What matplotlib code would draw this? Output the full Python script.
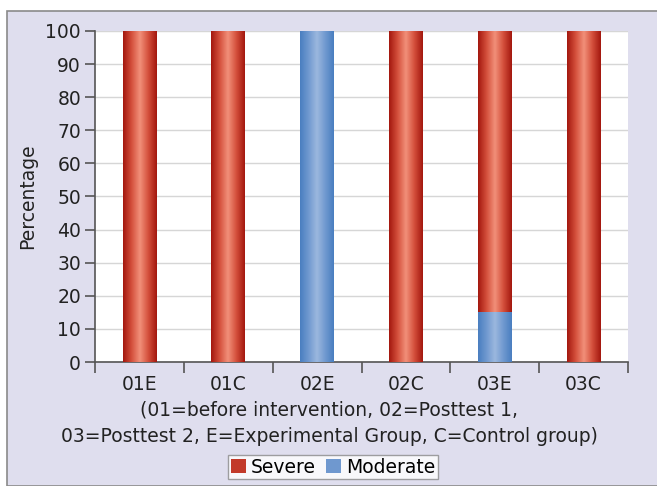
import matplotlib.pyplot as plt
import numpy as np
from matplotlib.colors import LinearSegmentedColormap
from matplotlib.patches import Rectangle, Patch

plt.rcParams['font.family'] = ['DejaVu Sans']

groups = ['01E', '01C', '02E', '02C', '03E', '03C']
moderate = [0, 0, 100, 0, 15, 0]
severe = [100, 100, 0, 100, 85, 100]
note_lines = ['(01=before intervention, 02=Posttest 1,',
              '03=Posttest 2, E=Experimental Group, C=Control group)']

red_cmap = LinearSegmentedColormap.from_list('red', ['#a4180f', '#d4503c', '#f2907a', '#d4503c', '#a4180f'])
blue_cmap = LinearSegmentedColormap.from_list('blue', ['#4a7fc0', '#7099d0', '#9cb8de', '#7099d0', '#4a7fc0'])

FS = 13.5
TXT = '#222222'


def gradient_bars(ax, bars, cmap):
    grad = np.linspace(0, 1, 64).reshape(1, -1)
    for b in bars:
        if b.get_height() <= 0:
            continue
        x0, y0 = b.get_x(), b.get_y()
        im = ax.imshow(grad, cmap=cmap, aspect='auto', zorder=3,
                       extent=(x0, x0 + b.get_width(), y0, y0 + b.get_height()))
        im.set_clip_path(b)


fig = plt.figure(figsize=(6.57, 4.86), dpi=100)
fig.patch.set_facecolor('white')
bg = Rectangle((7 / 657, 0), 1, 1 - 11 / 486, transform=fig.transFigure,
               facecolor='#dfdeee', edgecolor='#8a8a8a', linewidth=1.2, zorder=-10)
fig.add_artist(bg)

ax = fig.add_axes([95 / 657, 124 / 486, 533 / 657, 331 / 486])
ax.set_facecolor('white')

x = np.arange(len(groups))
w = 0.38
b1 = ax.bar(x, moderate, w, color='#7099d0', zorder=2)
b2 = ax.bar(x, severe, w, bottom=moderate, color='#d4503c', zorder=2)
gradient_bars(ax, b1, blue_cmap)
gradient_bars(ax, b2, red_cmap)

ax.set_xlim(-0.5, len(groups) - 0.5)
ax.set_ylim(0, 100)
ax.set_yticks(range(0, 101, 10))
ax.yaxis.grid(True, color='#d6d6d6', linewidth=1, zorder=0)
ax.set_axisbelow(True)

ax.set_xticks(np.arange(-0.5, len(groups), 1))
ax.set_xticklabels([])
ax.set_xticks(x, minor=True)
ax.set_xticklabels(groups, minor=True)
ax.tick_params(axis='x', which='minor', length=0, pad=9, labelsize=FS, labelcolor=TXT)
ax.tick_params(axis='x', which='major', length=8, width=1.2, color='#555555')
ax.tick_params(axis='y', length=7, width=1.2, color='#555555', labelsize=FS, labelcolor=TXT, pad=3)

for s in ['top', 'right']:
    ax.spines[s].set_visible(False)
for s in ['left', 'bottom']:
    ax.spines[s].set_color('#555555')
    ax.spines[s].set_linewidth(1.2)

ax.set_ylabel('Percentage', fontsize=FS, color=TXT, labelpad=6)

fig.text(329 / 657, 1 - 410 / 486, note_lines[0], ha='center', va='center', fontsize=FS, color=TXT)
fig.text(329 / 657, 1 - 437 / 486, note_lines[1], ha='center', va='center', fontsize=FS, color=TXT)

handles = [Patch(facecolor='#c23a2a'), Patch(facecolor='#6f98cf')]
leg = fig.legend(handles, ['Severe', 'Moderate'], loc='center', bbox_to_anchor=(333 / 657, 1 - 467 / 486),
                 ncol=2, frameon=True, fancybox=False, fontsize=FS, handlelength=0.8, handleheight=0.8,
                 handletextpad=0.3, columnspacing=0.5, borderpad=0.15, borderaxespad=0)
leg.get_frame().set_edgecolor('#8a8a8a')
leg.get_frame().set_linewidth(1)

plt.savefig('out.png', dpi=100, facecolor=fig.get_facecolor())
